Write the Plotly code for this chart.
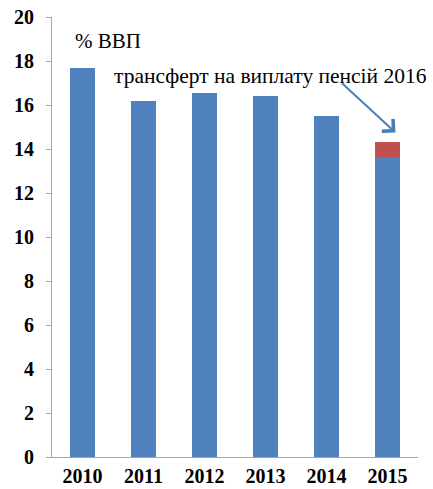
import plotly.graph_objects as go

years = ["2010", "2011", "2012", "2013", "2014", "2015"]
base_values = [17.68, 16.18, 16.55, 16.41, 15.5, 13.64]
transfer_values = [0, 0, 0, 0, 0, 0.68]
y_ticks = [0, 2, 4, 6, 8, 10, 12, 14, 16, 18, 20]

SERIF = "Times New Roman, Liberation Serif, DejaVu Serif, serif"

fig = go.Figure()
fig.add_trace(go.Bar(x=years, y=base_values, marker=dict(color="#4F81BD", line=dict(width=0)),
                     showlegend=False))
fig.add_trace(go.Bar(x=years, y=transfer_values, marker=dict(color="#C0504D", line=dict(width=0)),
                     showlegend=False))

fig.update_layout(
    barmode="stack",
    bargap=0.59,
    width=433, height=489,
    margin=dict(l=52, r=15, t=17, b=32, autoexpand=False),
    plot_bgcolor="white", paper_bgcolor="white",
    font=dict(family=SERIF, color="black"),
    xaxis=dict(showline=True, linecolor="#A6A6A6", linewidth=1, ticks="", automargin=False,
               tickfont=dict(family=SERIF, size=20, color="black", weight="bold"),
               ticklabelstandoff=1, showgrid=False),
    yaxis=dict(range=[0, 20], tickvals=y_ticks, showline=True, linecolor="#A6A6A6", linewidth=1,
               ticks="outside", ticklen=5, tickcolor="#A6A6A6", showgrid=False, zeroline=False,
               automargin=False, ticklabeloverflow="allow",
               tickfont=dict(family=SERIF, size=20, color="black", weight="bold"),
               ticklabelstandoff=8),
)

fig.add_annotation(text="% ВВП", xref="paper", yref="y", x=0.057, y=18.9,
                   xanchor="left", yanchor="middle", showarrow=False,
                   font=dict(family=SERIF, size=21, color="black"))
fig.add_annotation(text="трансферт на виплату пенсій 2016", xref="paper", yref="y", x=0.164, y=17.3,
                   xanchor="left", yanchor="middle", showarrow=False,
                   font=dict(family=SERIF, size=21.5, color="black"))
fig.add_annotation(x=5.13, y=14.75, ax=4.23, ay=17.05, xref="x", yref="y", axref="x", ayref="y",
                   text="", showarrow=True, arrowhead=4, arrowsize=1.6, arrowwidth=2,
                   arrowcolor="#4A7EBB")

fig.write_html("out.html", config={"displayModeBar": False},
               post_script="document.body.style.margin='0';")
